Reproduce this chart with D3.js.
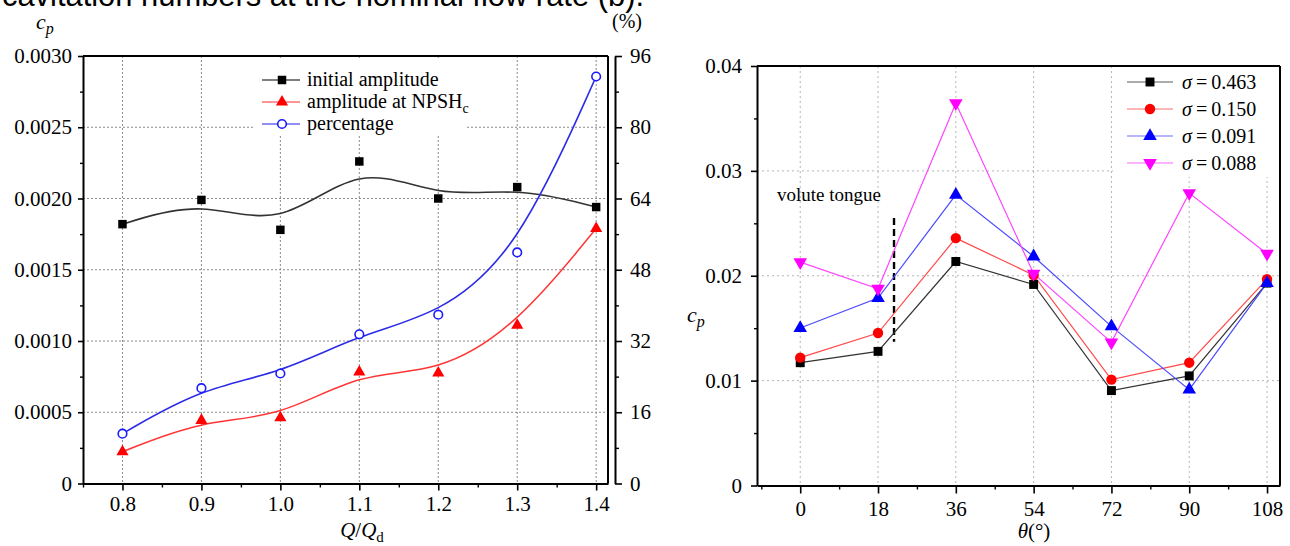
<!DOCTYPE html>
<html>
<head>
<meta charset="utf-8">
<script src="https://cdn.jsdelivr.net/npm/d3@7"></script>
<style>
  body { margin: 0; background: #fff; }
  svg text { font-family: "Liberation Serif", "Times New Roman", serif; fill: #000; }
</style>
</head>
<body>
<svg id="chart" width="1290" height="546"></svg>
<script>
// ---- left panel: amplitude vs flow rate
const flowRates = [0.8, 0.9, 1.0, 1.1, 1.2, 1.3, 1.4];
const initialAmplitude = [0.00182, 0.00199, 0.00178, 0.00226, 0.00200, 0.00208, 0.00194];
const npshAmplitude = [0.000223, 0.000443, 0.000462, 0.000782, 0.000775, 0.00111, 0.00179];
const percentage = [11.2, 21.4, 24.7, 33.5, 37.9, 51.9, 91.4];
const flowTicks = [0.8, 0.9, 1.0, 1.1, 1.2, 1.3, 1.4];
const flowMinor = [0.75, 0.85, 0.95, 1.05, 1.15, 1.25, 1.35];
const cpTicksLeft = [0, 0.0005, 0.0010, 0.0015, 0.0020, 0.0025, 0.0030];
const cpMinorLeft = [0.00025, 0.00075, 0.00125, 0.00175, 0.00225, 0.00275];
const pctTicks = [0, 16, 32, 48, 64, 80, 96];
const pctMinor = [8, 24, 40, 56, 72, 88];
const leftLegend = ["initial amplitude", "amplitude at NPSH", "percentage"];

// ---- right panel: cp vs angle
const angles = [0, 18, 36, 54, 72, 90, 108];
const sigmaLabels = ["0.463", "0.150", "0.091", "0.088"];
const cpSigma463 = [0.01171, 0.01279, 0.02136, 0.01917, 0.00905, 0.01045, 0.01930];
const cpSigma150 = [0.01219, 0.01454, 0.02359, 0.02006, 0.01010, 0.01171, 0.01968];
const cpSigma091 = [0.01502, 0.01787, 0.02771, 0.02184, 0.01517, 0.00914, 0.01930];
const cpSigma088 = [0.02130, 0.01876, 0.03645, 0.02020, 0.01365, 0.02788, 0.02210];
const angleTicks = [0, 18, 36, 54, 72, 90, 108];
const angleMinor = [-9, 9, 27, 45, 63, 81, 99];
const cpTicksRight = [0, 0.01, 0.02, 0.03, 0.04];
const cpMinorRight = [0.005, 0.015, 0.025, 0.035];
const tongueAngle = [21.7];
const tongueCp = [0.0137, 0.0255];

const SERIF = "Liberation Serif, Times New Roman, serif";
const svg = d3.select("#chart");

// cut-off caption line from the page above
svg.append("text")
  .attr("x", 2).attr("y", 6)
  .attr("textLength", 642).attr("lengthAdjust", "spacingAndGlyphs")
  .style("font-family", "Liberation Sans, Arial, sans-serif")
  .style("font-size", "31px")
  .text("cavitation numbers at the nominal flow rate (b).");

function styleAxis(g, fontSize) {
  g.attr("font-family", SERIF).attr("font-size", fontSize);
  g.select(".domain").attr("stroke", "#000").attr("stroke-width", 2);
  g.selectAll(".tick line").attr("stroke", "#000").attr("stroke-width", 1.6);
  g.selectAll(".tick text").style("font-size", fontSize + "px").style("font-family", SERIF);
}

function minorAxis(g, axis, values, size) {
  g.call(axis.tickValues(values).tickSize(size).tickFormat(""));
  g.select(".domain").remove();
  g.selectAll(".tick line").attr("stroke", "#000").attr("stroke-width", 1.4);
}

// ================= LEFT PANEL =================
const L = { left: 83, right: 608, top: 56, bottom: 483.5, axis2: 615 };
const x1 = d3.scaleLinear().domain([0.75, 1.415]).range([L.left, L.right]);
const y1 = d3.scaleLinear().domain([0, 0.003]).range([L.bottom, L.top]);
const yPct = d3.scaleLinear().domain([0, 96]).range([L.bottom, L.top]);

const gl = svg.append("g");

// grid
gl.selectAll(".vgrid").data(flowTicks).enter().append("line")
  .attr("x1", d => x1(d)).attr("x2", d => x1(d))
  .attr("y1", L.top).attr("y2", L.bottom)
  .attr("stroke", "#8a8a8a").attr("stroke-width", 1).attr("stroke-dasharray", "2,2");
gl.selectAll(".hgrid").data(cpTicksLeft.slice(1, -1)).enter().append("line")
  .attr("x1", L.left).attr("x2", L.right)
  .attr("y1", d => y1(d)).attr("y2", d => y1(d))
  .attr("stroke", "#8a8a8a").attr("stroke-width", 1).attr("stroke-dasharray", "2,2");

// legend background hides grid
gl.append("rect").attr("x", 253).attr("y", 58).attr("width", 212).attr("height", 76).attr("fill", "#fff");

// frame
gl.append("line").attr("x1", L.left).attr("x2", L.right).attr("y1", L.top).attr("y2", L.top)
  .attr("stroke", "#000").attr("stroke-width", 2);
gl.append("line").attr("x1", L.right).attr("x2", L.right).attr("y1", L.top).attr("y2", L.bottom)
  .attr("stroke", "#000").attr("stroke-width", 2);

// axes
const gxl = gl.append("g").attr("transform", `translate(0,${L.bottom})`)
  .call(d3.axisBottom(x1).tickValues(flowTicks).tickSize(7).tickSizeOuter(0).tickPadding(6).tickFormat(d3.format(".1f")));
styleAxis(gxl, 21);
minorAxis(gl.append("g").attr("transform", `translate(0,${L.bottom})`), d3.axisBottom(x1), flowMinor, 4);

const gyl = gl.append("g").attr("transform", `translate(${L.left},0)`)
  .call(d3.axisLeft(y1).tickValues(cpTicksLeft).tickSize(5).tickSizeOuter(0).tickPadding(6)
    .tickFormat(d => d === 0 ? "0" : d3.format(".4f")(d)));
styleAxis(gyl, 21);
minorAxis(gl.append("g").attr("transform", `translate(${L.left},0)`), d3.axisLeft(y1), cpMinorLeft, 3);

const gyr = gl.append("g").attr("transform", `translate(${L.axis2},0)`)
  .call(d3.axisRight(yPct).tickValues(pctTicks).tickSize(7).tickSizeOuter(0).tickPadding(8));
styleAxis(gyr, 21);
minorAxis(gl.append("g").attr("transform", `translate(${L.axis2},0)`), d3.axisRight(yPct), pctMinor, 4);

// curves (B-spline style)
const basisLine = (ys, yScale) => d3.line()
  .x((d, i) => x1(flowRates[i])).y(d => yScale(d))
  .curve(d3.curveBasis)(ys);

gl.append("path").attr("d", basisLine(initialAmplitude, y1))
  .attr("fill", "none").attr("stroke", "#333").attr("stroke-width", 1.6);
gl.append("path").attr("d", basisLine(npshAmplitude, y1))
  .attr("fill", "none").attr("stroke", "#ff3535").attr("stroke-width", 1.5);
gl.append("path").attr("d", basisLine(percentage, yPct))
  .attr("fill", "none").attr("stroke", "#2b2be8").attr("stroke-width", 1.6);

const sq = d3.symbol().type(d3.symbolSquare);
const tri = d3.symbol().type(d3.symbolTriangle);

gl.selectAll(".m1").data(initialAmplitude).enter().append("path")
  .attr("d", sq.size(72)())
  .attr("transform", (d, i) => `translate(${x1(flowRates[i])},${y1(d)})`)
  .attr("fill", "#000");
gl.selectAll(".m2").data(npshAmplitude).enter().append("path")
  .attr("d", tri.size(64)())
  .attr("transform", (d, i) => `translate(${x1(flowRates[i])},${y1(d)})`)
  .attr("fill", "#ff0000");
gl.selectAll(".m3").data(percentage).enter().append("circle")
  .attr("cx", (d, i) => x1(flowRates[i])).attr("cy", d => yPct(d)).attr("r", 4.3)
  .attr("fill", "#fff").attr("stroke", "#1a1aff").attr("stroke-width", 1.6);

// legend
const legL = [
  { color: "#555", mark: "sq" },
  { color: "#ff7070", mark: "tri" },
  { color: "#6a6af0", mark: "circ" }
];
legL.forEach((s, i) => {
  const yy = 80 + i * 22;
  gl.append("line").attr("x1", 262).attr("x2", 300).attr("y1", yy).attr("y2", yy)
    .attr("stroke", s.color).attr("stroke-width", 1.3);
  if (s.mark === "sq") {
    gl.append("path").attr("d", sq.size(72)()).attr("transform", `translate(282,${yy})`).attr("fill", "#000");
  } else if (s.mark === "tri") {
    gl.append("path").attr("d", tri.size(64)()).attr("transform", `translate(282,${yy})`).attr("fill", "#ff0000");
  } else {
    gl.append("circle").attr("cx", 282).attr("cy", yy).attr("r", 4.3)
      .attr("fill", "#fff").attr("stroke", "#1a1aff").attr("stroke-width", 1.6);
  }
  const t = gl.append("text").attr("x", 307).attr("y", yy + 6).style("font-size", "20px").text(leftLegend[i]);
  if (i === 1) t.append("tspan").attr("dy", 5).style("font-size", "14px").text("c");
});

// titles
const cpTop = gl.append("text").attr("x", 36).attr("y", 29).style("font-size", "22px").style("font-style", "italic").text("c");
cpTop.append("tspan").attr("dy", 5).style("font-size", "16px").text("p");
gl.append("text").attr("x", 612).attr("y", 28).style("font-size", "20px").text("(%)");
const qt = gl.append("text").attr("x", 362).attr("y", 537).attr("text-anchor", "middle").style("font-size", "21px");
qt.append("tspan").style("font-style", "italic").text("Q");
qt.append("tspan").text("/");
qt.append("tspan").style("font-style", "italic").text("Q");
qt.append("tspan").attr("dy", 5).style("font-size", "15px").text("d");

// ================= RIGHT PANEL =================
const R = { left: 757, right: 1280, top: 66, bottom: 485.5 };
const x2 = d3.scaleLinear().domain([-10, 111]).range([R.left, R.right]);
const y2 = d3.scaleLinear().domain([0, 0.04]).range([R.bottom, R.top]);

const gr = svg.append("g");

gr.selectAll(".vgrid").data(angleTicks).enter().append("line")
  .attr("x1", d => x2(d)).attr("x2", d => x2(d))
  .attr("y1", R.top).attr("y2", R.bottom)
  .attr("stroke", "#b5b5b5").attr("stroke-width", 1).attr("stroke-dasharray", "2,3");
gr.selectAll(".hgrid").data(cpTicksRight.slice(1, -1)).enter().append("line")
  .attr("x1", R.left).attr("x2", R.right)
  .attr("y1", d => y2(d)).attr("y2", d => y2(d))
  .attr("stroke", "#b5b5b5").attr("stroke-width", 1).attr("stroke-dasharray", "2,3");

gr.append("rect").attr("x", 1113).attr("y", 67).attr("width", 166).attr("height", 110).attr("fill", "#fff");

gr.append("line").attr("x1", R.left).attr("x2", R.right).attr("y1", R.top).attr("y2", R.top)
  .attr("stroke", "#000").attr("stroke-width", 2);
gr.append("line").attr("x1", R.right).attr("x2", R.right).attr("y1", R.top).attr("y2", R.bottom)
  .attr("stroke", "#000").attr("stroke-width", 2);

const gxr = gr.append("g").attr("transform", `translate(0,${R.bottom})`)
  .call(d3.axisBottom(x2).tickValues(angleTicks).tickSize(8).tickSizeOuter(0).tickPadding(8));
styleAxis(gxr, 21);
minorAxis(gr.append("g").attr("transform", `translate(0,${R.bottom})`), d3.axisBottom(x2), angleMinor, 4);

const gyr2 = gr.append("g").attr("transform", `translate(${R.left},0)`)
  .call(d3.axisLeft(y2).tickValues(cpTicksRight).tickSize(6).tickSizeOuter(0).tickPadding(9)
    .tickFormat(d => d === 0 ? "0" : d3.format(".2f")(d)));
styleAxis(gyr2, 21);
minorAxis(gr.append("g").attr("transform", `translate(${R.left},0)`), d3.axisLeft(y2), cpMinorRight, 3);

// volute tongue marker
gr.append("line")
  .attr("x1", x2(tongueAngle[0])).attr("x2", x2(tongueAngle[0]))
  .attr("y1", y2(tongueCp[1])).attr("y2", y2(tongueCp[0]))
  .attr("stroke", "#000").attr("stroke-width", 2.4).attr("stroke-dasharray", "7,4");
gr.append("text").attr("x", 777).attr("y", 201).style("font-size", "19px").text("volute tongue");

const seriesR = [
  { values: cpSigma463, line: "#333", fill: "#000", mark: "sq" },
  { values: cpSigma150, line: "#ff4a4a", fill: "#ff0000", mark: "circ" },
  { values: cpSigma091, line: "#4a4aff", fill: "#0000ff", mark: "tri" },
  { values: cpSigma088, line: "#ff44ff", fill: "#ff00ff", mark: "tridown" }
];

const lineR = d3.line().x((d, i) => x2(angles[i])).y(d => y2(d));

function drawMarker(g, mark, fill, cx, cy) {
  if (mark === "sq") {
    g.append("path").attr("d", sq.size(80)()).attr("transform", `translate(${cx},${cy})`).attr("fill", fill);
  } else if (mark === "circ") {
    g.append("circle").attr("cx", cx).attr("cy", cy).attr("r", 5.2).attr("fill", fill);
  } else if (mark === "tri") {
    g.append("path").attr("d", tri.size(80)()).attr("transform", `translate(${cx},${cy})`).attr("fill", fill);
  } else {
    g.append("path").attr("d", tri.size(80)()).attr("transform", `translate(${cx},${cy}) rotate(180)`).attr("fill", fill);
  }
}

seriesR.forEach(s => {
  gr.append("path").attr("d", lineR(s.values)).attr("fill", "none")
    .attr("stroke", s.line).attr("stroke-width", 1.2);
});
seriesR.forEach(s => {
  s.values.forEach((v, i) => drawMarker(gr, s.mark, s.fill, x2(angles[i]), y2(v)));
});

// legend
seriesR.forEach((s, i) => {
  const yy = 82 + i * 27;
  gr.append("line").attr("x1", 1127).attr("x2", 1173).attr("y1", yy).attr("y2", yy)
    .attr("stroke", s.line).attr("stroke-width", 1.1).attr("opacity", 0.8);
  drawMarker(gr, s.mark, s.fill, 1150, yy);
  const t = gr.append("text").attr("x", 1182).attr("y", yy + 7).style("font-size", "20px");
  t.append("tspan").style("font-style", "italic").text("σ");
  t.append("tspan").text("\u2009=\u2009" + sigmaLabels[i]);
});

// axis titles
const cpR = gr.append("text").attr("x", 687).attr("y", 322).style("font-size", "22px").style("font-style", "italic").text("c");
cpR.append("tspan").attr("dy", 5).style("font-size", "16px").text("p");
const th = gr.append("text").attr("x", 1034).attr("y", 538).attr("text-anchor", "middle").style("font-size", "21px");
th.append("tspan").style("font-style", "italic").text("θ");
th.append("tspan").text("(°)");
</script>
</body>
</html>
